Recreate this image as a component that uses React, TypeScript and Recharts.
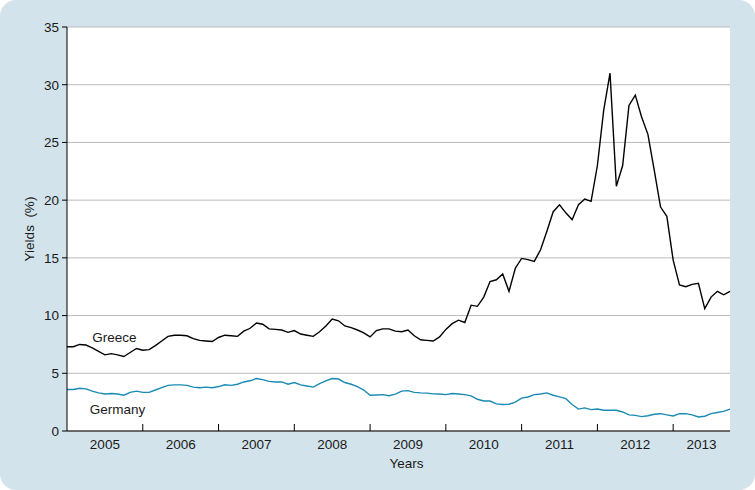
import * as React from "react"
import {
  LineChart,
  Line,
  XAxis,
  YAxis,
  CartesianGrid,
  ReferenceDot
} from "recharts"

// monthly yields, Jan 2005 .. Oct 2013
const greece = [
  7.3, 7.3, 7.5, 7.45, 7.2, 6.9, 6.6, 6.7, 6.6, 6.45, 6.8, 7.15,
  7.0, 7.05, 7.4, 7.8, 8.2, 8.3, 8.3, 8.25, 8.0, 7.85, 7.8, 7.75,
  8.1, 8.3, 8.25, 8.2, 8.65, 8.9, 9.35, 9.25, 8.85, 8.8, 8.75, 8.55,
  8.7, 8.4, 8.3, 8.2, 8.6, 9.1, 9.7, 9.55, 9.1, 8.95, 8.75, 8.5,
  8.15, 8.7, 8.85, 8.85, 8.65, 8.6, 8.75, 8.25, 7.9, 7.85, 7.8, 8.15,
  8.8, 9.3, 9.6, 9.4, 10.9, 10.8, 11.6, 12.95, 13.1, 13.6, 12.1, 14.1,
  14.95, 14.85, 14.7, 15.7, 17.3, 19.0, 19.6, 18.9, 18.3, 19.6, 20.1, 19.9,
  23.0, 27.8, 31.0, 21.2, 23.0, 28.2, 29.1, 27.2, 25.7, 22.6, 19.4, 18.6,
  14.8, 12.65, 12.5, 12.7, 12.8, 10.6, 11.6, 12.1, 11.8, 12.1
]

const germany = [
  3.6, 3.6, 3.7, 3.65, 3.45, 3.3, 3.2, 3.25, 3.2, 3.1, 3.35, 3.45,
  3.35, 3.35, 3.55, 3.75, 3.95, 4.0, 4.0, 3.95, 3.8, 3.75, 3.8, 3.75,
  3.85, 4.0, 3.95, 4.05, 4.25, 4.35, 4.55, 4.45, 4.3, 4.25, 4.25, 4.05,
  4.2, 4.0, 3.9, 3.8, 4.1, 4.35, 4.55, 4.5, 4.2, 4.05, 3.85, 3.55,
  3.1, 3.12, 3.15, 3.05, 3.2, 3.45, 3.5, 3.35, 3.3, 3.28, 3.22, 3.2,
  3.15, 3.25, 3.2, 3.15, 3.05, 2.75, 2.6, 2.6, 2.35, 2.3, 2.32, 2.5,
  2.85, 2.95, 3.15, 3.2, 3.3, 3.1, 2.95, 2.8, 2.3, 1.9, 2.0, 1.85,
  1.9, 1.8, 1.8, 1.8, 1.65, 1.4, 1.35, 1.25, 1.32, 1.45, 1.5, 1.4,
  1.3, 1.5, 1.5, 1.4, 1.22, 1.28, 1.5, 1.6, 1.7, 1.9
]

const years = ["2005", "2006", "2007", "2008", "2009", "2010", "2011", "2012", "2013"]
const yTicks = [0, 5, 10, 15, 20, 25, 30, 35]

const data = greece.map((g, i) => ({ month: i, greece: g, germany: germany[i] }))
const lastMonth = data.length - 1
const yearStarts = years.map((_, i) => i * 12)

const FONT = "'Liberation Sans', Arial, Helvetica, sans-serif"
const TEXT = "#1a1a1a"
const FS = 13.5
const W = 755
const H = 490
const M = { top: 27, right: 25, bottom: 29, left: 27 }
const Y_W = 40
const X_H = 30
const plotW = W - M.left - M.right - Y_W
const pxPerMonth = plotW / lastMonth

const YearTick = (props: any) => {
  const { x, y, payload, index } = props
  const start = payload.value
  const end = Math.min(start + 12, lastMonth)
  const cx = x + ((end - start) / 2) * pxPerMonth
  return (
    <g>
      {start > 0 && <line x1={x} y1={y} x2={x} y2={y - 7} stroke="#000" strokeWidth={1} />}
      <text x={cx} y={y + 18} textAnchor="middle" fontSize={FS} fill={TEXT} fontFamily={FONT}>
        {years[index]}
      </text>
    </g>
  )
}

export default function App() {
  return (
    <div
      style={{
        position: "absolute",
        left: 0,
        top: 0,
        width: W,
        height: H,
        background: "#d3e3eb",
        borderRadius: 16
      }}
    >
      <LineChart width={W} height={H} data={data} margin={M}>
        <CartesianGrid vertical={false} stroke="#bbbbbb" fill="#ffffff" fillOpacity={1} />
        <XAxis
          dataKey="month"
          type="number"
          domain={[0, lastMonth]}
          ticks={yearStarts}
          interval={0}
          height={X_H}
          tickSize={0}
          tickMargin={0}
          tickLine={false}
          axisLine={{ stroke: "#000", strokeWidth: 1 }}
          tick={<YearTick />}
          label={{
            content: (p: any) => (
              <text x={p.viewBox.x + p.viewBox.width / 2 + 8} y={H - 22} textAnchor="middle" fontSize={FS} fill={TEXT} fontFamily={FONT}>
                Years
              </text>
            )
          }}
        />
        <YAxis
          type="number"
          domain={[0, 35]}
          ticks={yTicks}
          interval={0}
          width={Y_W}
          tickSize={5}
          tickMargin={3}
          tickLine={{ stroke: "#000" }}
          axisLine={{ stroke: "#000", strokeWidth: 1 }}
          tick={{ fontSize: FS, fill: TEXT, fontFamily: FONT }}
          label={{
            content: (p: any) => {
              const cy = p.viewBox.y + p.viewBox.height / 2
              return (
                <text x={34} y={cy} transform={`rotate(-90 34 ${cy})`} textAnchor="middle" fontSize={FS} fill={TEXT} fontFamily={FONT}>
                  {"Yields\u00a0\u00a0(%)"}
                </text>
              )
            }
          }}
        />
        <Line
          type="linear"
          dataKey="germany"
          stroke="#1a8bb5"
          strokeWidth={1.4}
          dot={false}
          isAnimationActive={false}
        />
        <Line
          type="linear"
          dataKey="greece"
          stroke="#000000"
          strokeWidth={1.4}
          dot={false}
          isAnimationActive={false}
        />
        <ReferenceDot
          x={4}
          y={8.15}
          r={0}
          stroke="none"
          fill="none"
          label={{
            content: (p: any) => (
              <text x={p.viewBox.x} y={p.viewBox.y + 5} fontSize={FS} fill={TEXT} fontFamily={FONT}>
                Greece
              </text>
            )
          }}
        />
        <ReferenceDot
          x={3.6}
          y={1.9}
          r={0}
          stroke="none"
          fill="none"
          label={{
            content: (p: any) => (
              <text x={p.viewBox.x} y={p.viewBox.y + 5} fontSize={FS} fill={TEXT} fontFamily={FONT}>
                Germany
              </text>
            )
          }}
        />
      </LineChart>
    </div>
  )
}
